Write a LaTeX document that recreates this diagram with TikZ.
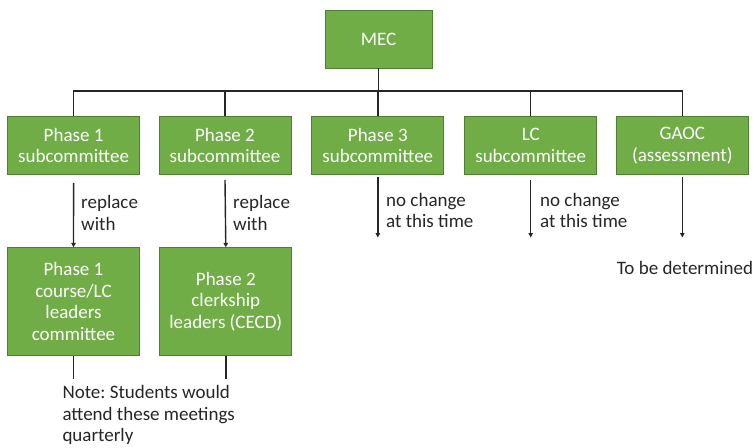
\documentclass[tikz,border=0pt]{standalone}
\usepackage{fontspec}
\setmainfont{Carlito}
\usetikzlibrary{arrows.meta}
\definecolor{boxgreen}{HTML}{70AD47}
\definecolor{boxedge}{HTML}{507E32}
\definecolor{ink}{HTML}{262626}
\frenchspacing
\begin{document}
\begin{tikzpicture}[x=1pt,y=-1pt,
  box/.style={draw=boxedge, line width=0.8pt, fill=boxgreen, text=white, align=center,
    font=\fontsize{19}{21.5}\selectfont, inner sep=0pt, minimum width=132pt, minimum height=58pt},
  conn/.style={line width=1.4pt, draw=ink},
  arr/.style={conn, -{Triangle[length=4.5pt,width=4.5pt]}},
  lbl/.style={font=\fontsize{19}{21.5}\selectfont, align=left, inner sep=0pt, anchor=west, text=ink}]
\path[use as bounding box] (0,0) rectangle (754,447);
% boxes
\node[box, minimum width=107pt] (mec) at (378.6,39) {MEC};
\node[box] (p1) at (73.6,145.5) {Phase 1\\subcommittee};
\node[box] (p2) at (225,145.5) {Phase 2\\subcommittee};
\node[box] (p3) at (377.8,145.5) {Phase 3\\subcommittee};
\node[box] (p4) at (530.7,145.5) {LC\\subcommittee};
\node[box] (p5) at (682.3,145.5) {GAOC\\(assessment)};
\node[box, minimum height=108pt] (q1) at (73.5,301.7) {Phase 1\\course/LC\\leaders\\committee};
\node[box, minimum height=108pt] (q2) at (225.8,301.7) {Phase 2\\clerkship\\leaders (CECD)};
% bus
\coordinate (bus) at (378.6,91);
\draw[conn] (mec.south) -- (mec.south |- bus);
\draw[conn] (p1.north) -- (p1.north |- bus) -- (p5.north |- bus) -- (p5.north);
\foreach \n in {p2,p3,p4} \draw[conn] (\n.north) -- (\n.north |- bus);
% arrows
\coordinate (endrow) at (0,237.5);
\draw[arr] ([yshift=-8pt]p1.south) -- (q1.north);
\draw[arr] ([yshift=-5pt]p2.south) -- (q2.north);
\draw[arr] ([yshift=-2pt]p3.south) -- (p3.south |- endrow);
\draw[arr] ([yshift=-5pt]p4.south) -- (p4.south |- endrow);
\draw[arr] ([yshift=-2pt]p5.south) -- (p5.south |- endrow);
% lines below bottom boxes
\coordinate (nb) at (0,379.3);
\draw[conn] (q1.south) -- (q1.south |- nb);
\draw[conn] (q2.south) -- (q2.south |- nb);
% labels
\node[lbl] (r1) at (81,213) {replace\\with};
\node[lbl] (r2) at (233,213) {replace\\with};
\node[lbl] (n3) at (386,210.5) {no change\\at this time};
\node[lbl] (n4) at (540,210.5) {no change\\at this time};
\node[lbl] (tbd) at (616.7,268.3) {To be determined};
\node[lbl] (note) at (62.3,415.3) {Note: Students would\\attend these meetings\\quarterly};
\end{tikzpicture}
\end{document}
